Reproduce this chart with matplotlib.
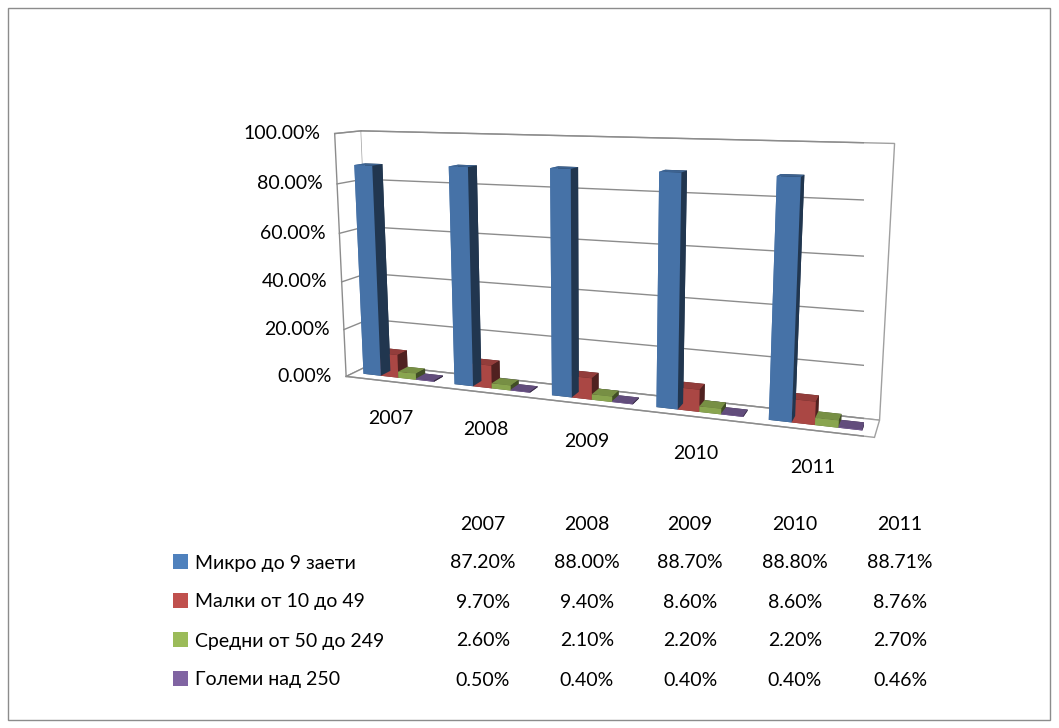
import matplotlib.pyplot as plt
import numpy as np
from matplotlib.patches import Rectangle
from mpl_toolkits.mplot3d import proj3d

plt.rcParams['font.family'] = ['Lato', 'DejaVu Sans']

years = ['2007', '2008', '2009', '2010', '2011']
series = ['Микро до 9 заети', 'Малки от 10 до 49', 'Средни от 50 до 249', 'Големи над 250']
micro = [87.20, 88.00, 88.70, 88.80, 88.71]
small = [9.70, 9.40, 8.60, 8.60, 8.76]
medium = [2.60, 2.10, 2.20, 2.20, 2.70]
large = [0.50, 0.40, 0.40, 0.40, 0.46]
values = [micro, small, medium, large]
colors = ['#4F81BD', '#C0504D', '#9BBB59', '#8064A2']
zticks = [0, 20, 40, 60, 80, 100]

W, H = 1059, 728
fig = plt.figure(figsize=(W / 100, H / 100), dpi=100)
fig.patches.append(Rectangle((8 / W, 8 / H), 1042 / W, 712 / H, transform=fig.transFigure,
                             fill=False, edgecolor='#8c8c8c', linewidth=1))

ax = fig.add_axes([0.125, 0.238, 0.86, 0.76], projection='3d', computed_zorder=False)
ax.set_proj_type('persp', focal_length=0.35)
ax.view_init(elev=11, azim=-70)

bw = 0.195
xmin, xmax = -0.5, 4.5
ymin, ymax = 0, 1
xs, ys, dz, cs = [], [], [], []
for j, vals in enumerate(values):
    for i, v in enumerate(vals):
        xs.append(i - 2 * bw + j * bw)
        ys.append(0.3)
        dz.append(v)
        cs.append(colors[j])
ax.bar3d(xs, ys, np.zeros(len(xs)), bw, 0.4, dz, color=cs, shade=True, zorder=3)

ax.set_xlim(xmin, xmax)
ax.set_ylim(ymin, ymax)
ax.set_zlim(0, 100)
ax.set_box_aspect((5, 0.45, 2.35), zoom=1.09)

for a in (ax.xaxis, ax.yaxis, ax.zaxis):
    a.set_pane_color((1, 1, 1, 1))
    a.pane.set_edgecolor('#a0a0a0')
    a.line.set_color((1, 1, 1, 0))
ax.grid(False)
ax.set_xticks([])
ax.set_yticks([])
ax.set_zticks([])

for z in zticks:
    ax.plot([xmin, xmax], [ymax, ymax], [z, z], color='#8c8c8c', lw=1, zorder=1)
    ax.plot([xmin, xmin], [ymin, ymax], [z, z], color='#8c8c8c', lw=1, zorder=1)
ax.plot([xmin, xmax, xmax], [ymin, ymin, ymax], [0, 0, 0], color='#8c8c8c', lw=1, zorder=1)
ax.plot([xmin, xmin], [ymin, ymin], [0, 100], color='#8c8c8c', lw=1, zorder=1)

# project 3d anchor points to 2d figure coords for the axis labels
fig.canvas.draw()


def to_fig(x, y, z):
    px, py, _ = proj3d.proj_transform(x, y, z, ax.get_proj())
    disp = ax.transData.transform((px, py))
    return fig.transFigure.inverted().transform(disp)


for z in zticks:
    fx, fy = to_fig(xmin, ymin, z)
    fig.text(fx - 14 / W, fy, f'{z:.2f}%', ha='right', va='center', fontsize=14)

for i, y in enumerate(years):
    fx, fy = to_fig(i, ymin, 0)
    fig.text(fx, fy - 37 / H, y, ha='center', va='center', fontsize=14)

# data table
col_x = [483, 587, 690, 795, 900]
row_y = [563, 602, 641, 680]
for cx, y in zip(col_x, years):
    fig.text(cx / W, 1 - 525 / H, y, ha='center', va='center', fontsize=14)
for r, (name, vals) in enumerate(zip(series, values)):
    yy = 1 - row_y[r] / H
    fig.patches.append(Rectangle((173 / W, yy - 6 / H), 15 / W, 15 / H, transform=fig.transFigure,
                                 facecolor=colors[r], edgecolor='none'))
    fig.text(195 / W, yy, name, ha='left', va='center', fontsize=14)
    for cx, v in zip(col_x, vals):
        fig.text(cx / W, yy, f'{v:.2f}%', ha='center', va='center', fontsize=14)

fig.savefig('out.png', dpi=100)
